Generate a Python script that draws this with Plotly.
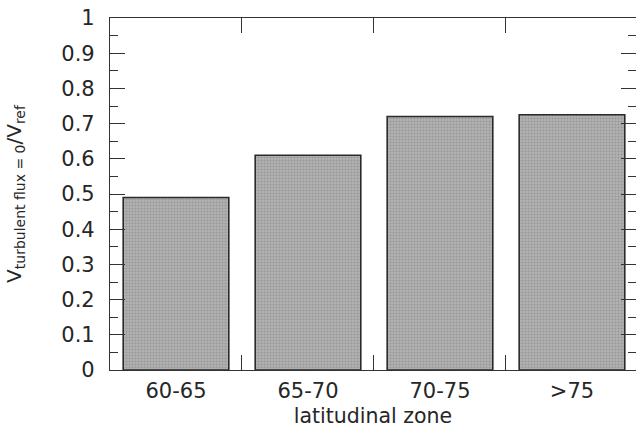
import plotly.graph_objects as go

zones = ["60-65", "65-70", "70-75", ">75"]
ratio = [0.49, 0.61, 0.72, 0.725]
y_ticks = [0, 0.1, 0.2, 0.3, 0.4, 0.5, 0.6, 0.7, 0.8, 0.9, 1]
y_tick_text = ["0", "0.1", "0.2", "0.3", "0.4", "0.5", "0.6", "0.7", "0.8", "0.9", "1"]

font = "DejaVu Sans, Liberation Sans, Arial, sans-serif"
ink = "#262626"

y_title = (
    "V<sub><span style='font-size:14px'>turbulent flux = 0</span></sub>"
    "/V<sub><span style='font-size:14px'>ref</span></sub>"
)

fig = go.Figure(
    go.Bar(
        x=zones,
        y=ratio,
        width=0.8,
        marker=dict(
            color="#a4a4a4",
            line=dict(color="#2a2a2a", width=1.6),
            pattern=dict(shape=".", size=3, solidity=0.4,
                         fgcolor="#7c7c7c", bgcolor="#b2b2b2"),
        ),
    )
)

fig.update_layout(
    width=636,
    height=433,
    margin=dict(l=110, r=0, t=18, b=63),
    paper_bgcolor="white",
    plot_bgcolor="white",
    showlegend=False,
    font=dict(family=font, color=ink),
    bargap=0.2,
)

fig.update_xaxes(
    range=[-0.5, 3.485],
    tickson="boundaries",
    ticks="inside",
    ticklen=15,
    tickwidth=1,
    tickcolor="#333",
    showline=True,
    linecolor="#333",
    linewidth=1.2,
    mirror="ticks",
    showgrid=False,
    tickfont=dict(size=21),
    ticklabelstandoff=2,
    title=dict(text="latitudinal zone", font=dict(size=20.5), standoff=6),
)

fig.update_yaxes(
    range=[0, 1.0],
    tickvals=y_ticks,
    ticktext=y_tick_text,
    ticks="inside",
    ticklen=15,
    tickwidth=1,
    tickcolor="#333",
    minor=dict(dtick=0.05, ticks="inside", ticklen=8, tickcolor="#333", tickwidth=1),
    showline=True,
    linecolor="#333",
    linewidth=1.2,
    mirror="ticks",
    showgrid=False,
    zeroline=False,
    tickfont=dict(size=21),
    ticklabelstandoff=10,
    title=dict(text=y_title, font=dict(size=20), standoff=34),
)

fig.write_html("out.html")
